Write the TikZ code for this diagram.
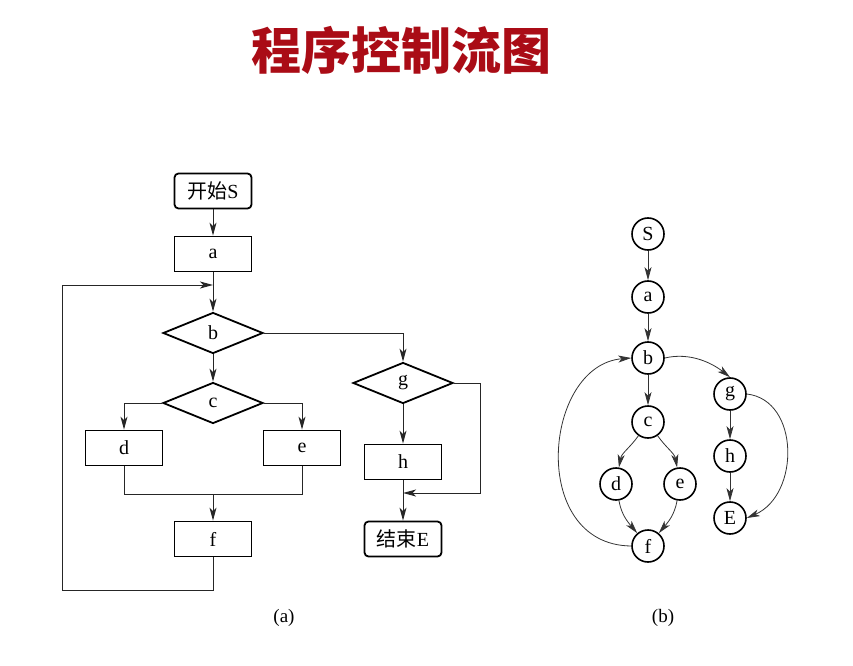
\documentclass[tikz,border=0pt]{standalone}
\usepackage{fontspec}
\setmainfont{Liberation Serif}
\newfontfamily\cjk{Noto Sans CJK SC}
\usetikzlibrary{shapes.geometric,arrows.meta}
\definecolor{titlered}{RGB}{170,12,22}
\tikzset{
  x=1pt,y=1pt,
  line/.style={draw=black!85,line width=1pt},
  arr/.style={line,-{Stealth[length=13pt,width=7pt,inset=3.5pt]}},
  boxnode/.style={draw,line width=1.8pt,minimum width=77pt,minimum height=35pt,inner sep=0pt,font=\fontsize{20}{22}\selectfont},
  termnode/.style={boxnode,rounded corners=4pt},
  decnode/.style={draw,diamond,line width=1.8pt,minimum width=100pt,minimum height=41pt,inner sep=0pt,font=\fontsize{20}{22}\selectfont},
  cnode/.style={draw,circle,line width=1.6pt,minimum size=32pt,inner sep=0pt,font=\fontsize{20}{22}\selectfont},
  garr/.style={draw=black!80,line width=0.8pt,-{Stealth[length=13pt,width=7pt,inset=3.5pt]}},
  glab/.style={font=\fontsize{19}{21}\selectfont}
}
\begin{document}
\begin{tikzpicture}
\useasboundingbox (0,0) rectangle (853,665);
% title
\node[text=titlered,font=\cjk\bfseries\fontsize{50}{54}\selectfont] (title) at (401,615) {程序控制流图};
% ---- flowchart (a)
\node[termnode] (start) at (213,474) {\cjk 开始\rmfamily S};
\node[boxnode] (a) at (213,411) {a};
\node[decnode] (b) at (213,332) {b};
\node[decnode] (c) at (213,262) {c};
\node[boxnode] (d) at (124,217) {d};
\node[boxnode] (e) at (302,217) {e};
\node[boxnode] (f) at (213,126) {f};
\node[decnode] (g) at (403,282) {g};
\node[boxnode] (h) at (403,203) {h};
\node[termnode] (end) at (403,126) {\cjk 结束\rmfamily E};
\coordinate (j1) at (213,380);
\coordinate (fl) at (213,75);
\coordinate (ll) at (62,75);
\coordinate (lt) at (62,380);
\coordinate (jn) at (213,171);
\coordinate (dj) at (124,171);
\coordinate (ej) at (302,171);
\coordinate (gr) at (480,282);
\coordinate (gb) at (480,172);
\coordinate (hm) at (403,172);
\draw[arr] (start) -- (a);
\draw[arr] (a) -- (b);
\draw[arr] (f) -- (fl) -- (ll) -- (lt) -- (j1);
\draw[arr] (b.east) -| (g.north);
\draw[arr] (b) -- (c);
\draw[arr] (c.west) -| (d.north);
\draw[arr] (c.east) -| (e.north);
\draw[line] (d.south) -- (dj) -- (ej) -- (e.south);
\draw[arr] (jn) -- (f);
\draw[arr] (g) -- (h);
\draw[arr] (h) -- (end);
\draw[arr] (g.east) -- (gr) -- (gb) -- (hm);
\node[glab] (la) at (284,47) {(a)};
% ---- graph (b)
\node[cnode] (S) at (648,431) {S};
\node[cnode] (ga) at (648,368) {a};
\node[cnode] (gbn) at (648,307) {b};
\node[cnode] (gc) at (648,243) {c};
\node[cnode] (gd) at (616,181) {d};
\node[cnode] (ge) at (680,181) {e};
\node[cnode] (gf) at (648,119) {f};
\node[cnode] (gg) at (730,271) {g};
\node[cnode] (gh) at (730,209) {h};
\node[cnode] (gE) at (730,147) {E};
\draw[garr] (S) -- (ga);
\draw[garr] (ga) -- (gbn);
\draw[garr] (gbn) -- (gc);
\draw[garr] (gc) to[out=235,in=80] (gd);
\draw[garr] (gc) to[out=305,in=100] (ge);
\draw[garr] (gd) to[out=280,in=130] (gf);
\draw[garr] (ge) to[out=260,in=50] (gf);
\draw[garr] (gg) -- (gh);
\draw[garr] (gh) -- (gE);
\draw[garr] (gbn.east) .. controls (690,313) and (712,302) .. (gg.north);
\draw[garr] (gf.west) .. controls (528,120) and (543,300) .. (gbn.west);
\draw[garr] (gg.east) .. controls (800,265) and (800,170) .. (gE.east);
\node[glab] (lb) at (663,47) {(b)};
\end{tikzpicture}
\end{document}
